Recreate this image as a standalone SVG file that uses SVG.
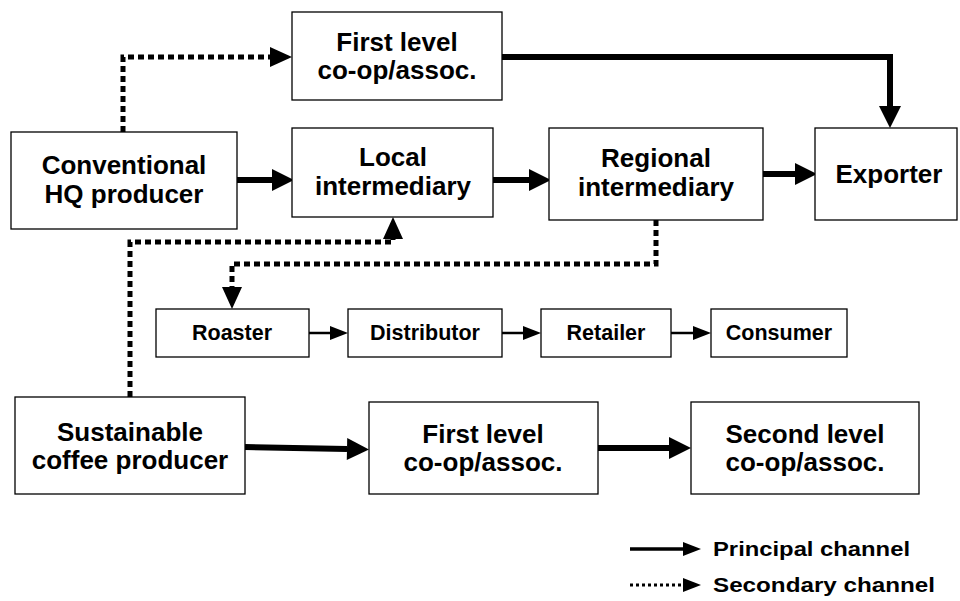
<svg xmlns="http://www.w3.org/2000/svg" width="960" height="601" viewBox="0 0 960 601">
<style>
.box{fill:#fff;stroke:#000;stroke-width:1.3}
.t{font-family:"Liberation Sans",Arial,sans-serif;font-weight:bold;font-size:26px;text-anchor:middle;fill:#000}
.s{font-size:21.5px}
.lg{font-family:"Liberation Sans",Arial,sans-serif;font-weight:bold;font-size:21px;fill:#000}
.thick{fill:none;stroke:#000;stroke-width:6}
.thin{fill:none;stroke:#000;stroke-width:2.5}
.dot{fill:none;stroke:#000;stroke-width:5;stroke-dasharray:6 4}
.lthin{fill:none;stroke:#000;stroke-width:3.5}
.ldot{fill:none;stroke:#000;stroke-width:3;stroke-dasharray:3 3}
</style>
<defs>
<marker id="ah" markerUnits="userSpaceOnUse" markerWidth="22" markerHeight="22" refX="0" refY="11" orient="auto" overflow="visible"><path d="M0,0 L22,11 L0,22 z" fill="#000"/></marker>
<marker id="ad" markerUnits="userSpaceOnUse" markerWidth="22" markerHeight="20" refX="0" refY="10" orient="auto" overflow="visible"><path d="M0,0 L22,10 L0,20 z" fill="#000"/></marker>
<marker id="as" markerUnits="userSpaceOnUse" markerWidth="18" markerHeight="14" refX="0" refY="7" orient="auto" overflow="visible"><path d="M0,0 L18,7 L0,14 z" fill="#000"/></marker>
<marker id="al" markerUnits="userSpaceOnUse" markerWidth="18" markerHeight="14" refX="0" refY="7" orient="auto" overflow="visible"><path d="M0,0 L18,7 L0,14 z" fill="#000"/></marker>
</defs>
<g id="connectors">
<path class="thick" d="M237,180 H272" marker-end="url(#ah)"/>
<path class="thick" d="M493,180 H529" marker-end="url(#ah)"/>
<path class="thick" d="M763,174 H795" marker-end="url(#ah)"/>
<path class="thick" d="M502,57 H890 V106" marker-end="url(#ah)"/>
<path class="thick" d="M245,447 L347,449" marker-end="url(#ah)"/>
<path class="thick" d="M598,448 H669" marker-end="url(#ah)"/>
<path class="thin" d="M309,333 H330" marker-end="url(#as)"/>
<path class="thin" d="M502,333 H523" marker-end="url(#as)"/>
<path class="thin" d="M671,333 H693" marker-end="url(#as)"/>
<path class="dot" d="M123,132 V57 H270" marker-end="url(#ad)"/>
<path class="dot" d="M130,397 V242 H393 V239" marker-end="url(#ad)"/>
<path class="dot" d="M656,220 V264 H232 V287" marker-end="url(#ad)"/>
</g>
<g id="n-first-top"><rect class="box" x="292" y="12" width="210" height="88"/><text class="t" x="397" y="51">First level</text><text class="t" x="397" y="79">co-op/assoc.</text></g>
<g id="n-conventional"><rect class="box" x="11" y="132" width="226" height="97"/><text class="t" x="124" y="174">Conventional</text><text class="t" x="124" y="203">HQ producer</text></g>
<g id="n-local"><rect class="box" x="292" y="128" width="201" height="89"/><text class="t" x="393" y="166">Local</text><text class="t" x="393" y="195">intermediary</text></g>
<g id="n-regional"><rect class="box" x="549" y="128" width="214" height="92"/><text class="t" x="656" y="167">Regional</text><text class="t" x="656" y="196">intermediary</text></g>
<g id="n-exporter"><rect class="box" x="815" y="128" width="142" height="92"/><text class="t" x="889" y="183">Exporter</text></g>
<g id="n-roaster"><rect class="box" x="156" y="309" width="153" height="48"/><text class="t s" x="232" y="340">Roaster</text></g>
<g id="n-distributor"><rect class="box" x="348" y="309" width="154" height="48"/><text class="t s" x="425" y="340">Distributor</text></g>
<g id="n-retailer"><rect class="box" x="541" y="309" width="130" height="48"/><text class="t s" x="606" y="340">Retailer</text></g>
<g id="n-consumer"><rect class="box" x="711" y="309" width="136" height="48"/><text class="t s" x="779" y="340">Consumer</text></g>
<g id="n-sustainable"><rect class="box" x="15" y="397" width="230" height="97"/><text class="t" x="130" y="441">Sustainable</text><text class="t" x="130" y="469">coffee producer</text></g>
<g id="n-first-bottom"><rect class="box" x="369" y="402" width="229" height="92"/><text class="t" x="483" y="443">First level</text><text class="t" x="483" y="471">co-op/assoc.</text></g>
<g id="n-second"><rect class="box" x="691" y="402" width="228" height="92"/><text class="t" x="805" y="443">Second level</text><text class="t" x="805" y="471">co-op/assoc.</text></g>
<g id="legend">
<path class="lthin" d="M630,549 H683" marker-end="url(#al)"/>
<text class="lg" x="713" y="556" textLength="197" lengthAdjust="spacingAndGlyphs">Principal channel</text>
<path class="ldot" d="M630,585 H683" marker-end="url(#al)"/>
<text class="lg" x="713" y="592" textLength="222" lengthAdjust="spacingAndGlyphs">Secondary channel</text>
</g>
</svg>
